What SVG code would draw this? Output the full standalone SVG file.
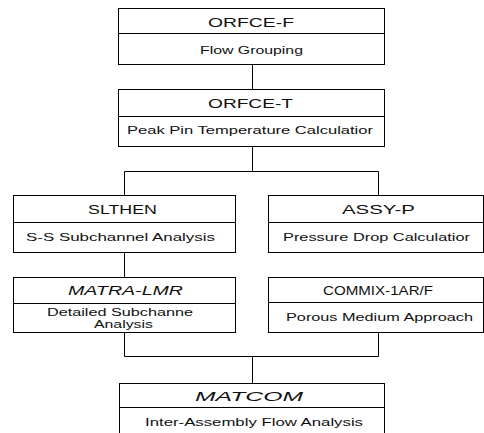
<svg xmlns="http://www.w3.org/2000/svg" width="484" height="433" viewBox="0 0 484 433">
<style>
.box{fill:#fff;stroke:#000;stroke-width:1}
.div{stroke:#000;stroke-width:1}
.con{fill:none;stroke:#000;stroke-width:1}
.t{font-family:"Liberation Sans",Arial,sans-serif;font-size:13px;fill:#111}
.s{font-family:"Liberation Sans",Arial,sans-serif;font-size:11px;fill:#111}
.n{font-size:10px}
.i{font-style:italic}
</style>
<rect width="484" height="433" fill="#fff"/>
<g id="connectors">
<path class="con" d="M252.5 64.5V89.5"/>
<path class="con" d="M252.5 146.5V171.5M124.5 195.5V171.5H378.5V195.5"/>
<path class="con" d="M124.5 252.5V277.5"/>
<path class="con" d="M124.5 332.5V356.5H378.5V332.5M252.5 356.5V383.5"/>
</g>
<g id="orfce-f">
<rect class="box" x="118.5" y="8.5" width="266" height="56"/>
<line class="div" x1="118.5" y1="33.5" x2="384.5" y2="33.5"/>
<text class="t" x="208" y="27" textLength="86" lengthAdjust="spacingAndGlyphs">ORFCE-F</text>
<text class="s" x="200" y="54" textLength="103" lengthAdjust="spacingAndGlyphs">Flow Grouping</text>
</g>
<g id="orfce-t">
<rect class="box" x="118.5" y="89.5" width="266" height="57"/>
<line class="div" x1="118.5" y1="116.5" x2="384.5" y2="116.5"/>
<text class="t" x="208" y="108" textLength="85" lengthAdjust="spacingAndGlyphs">ORFCE-T</text>
<text class="s" x="127" y="134" textLength="246" lengthAdjust="spacingAndGlyphs">Peak Pin Temperature  Calculatior</text>
</g>
<g id="slthen">
<rect class="box" x="13.5" y="195.5" width="222" height="57"/>
<line class="div" x1="13.5" y1="222.5" x2="235.5" y2="222.5"/>
<text class="t" x="88" y="214" textLength="69" lengthAdjust="spacingAndGlyphs">SLTHEN</text>
<text class="s" x="26" y="241" textLength="189" lengthAdjust="spacingAndGlyphs">S-S Subchannel Analysis</text>
</g>
<g id="assy-p">
<rect class="box" x="268.5" y="195.5" width="215" height="57"/>
<line class="div" x1="268.5" y1="222.5" x2="483.5" y2="222.5"/>
<text class="t" x="342" y="214" textLength="73" lengthAdjust="spacingAndGlyphs">ASSY-P</text>
<text class="s" x="283" y="241" textLength="187" lengthAdjust="spacingAndGlyphs">Pressure Drop Calculatior</text>
</g>
<g id="matra-lmr">
<rect class="box" x="13.5" y="277.5" width="222" height="55"/>
<line class="div" x1="13.5" y1="303.5" x2="235.5" y2="303.5"/>
<text class="t i" x="68" y="295" textLength="115" lengthAdjust="spacingAndGlyphs">MATRA-LMR</text>
<text class="s n" x="47" y="316" textLength="146" lengthAdjust="spacingAndGlyphs">Detailed Subchanne</text>
<text class="s n" x="94" y="328" textLength="59" lengthAdjust="spacingAndGlyphs">Analysis</text>
</g>
<g id="commix">
<rect class="box" x="268.5" y="277.5" width="215" height="55"/>
<line class="div" x1="268.5" y1="302.5" x2="483.5" y2="302.5"/>
<text class="t" x="323" y="295" textLength="110" lengthAdjust="spacingAndGlyphs">COMMIX-1AR/F</text>
<text class="s" x="286" y="321" textLength="187" lengthAdjust="spacingAndGlyphs">Porous Medium Approach</text>
</g>
<g id="matcom">
<rect class="box" x="119.5" y="383.5" width="265" height="60"/>
<line class="div" x1="119.5" y1="407.5" x2="384.5" y2="407.5"/>
<text class="t i" x="195" y="401" textLength="108" lengthAdjust="spacingAndGlyphs">MATCOM</text>
<text class="s" x="145" y="426" textLength="218" lengthAdjust="spacingAndGlyphs">Inter-Assembly Flow Analysis</text>
</g>
</svg>
